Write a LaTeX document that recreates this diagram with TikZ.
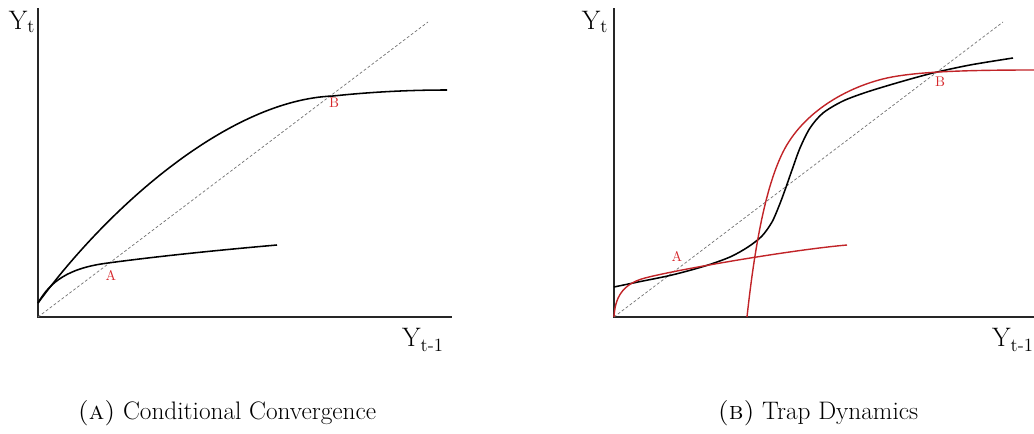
\documentclass[tikz,border=0pt]{standalone}
\usepackage{xcolor}
\usetikzlibrary{
    arrows.meta,
    positioning
}

\definecolor{eqred}{RGB}{214,40,44}

\begin{document}
\begin{tikzpicture}[
    x=0.025cm,
    y=-0.025cm,
    axis/.style={
        line width=1.3pt,
        draw=black!85
    },
    curve/.style={
        line width=1.1pt,
        draw=black
    },
    redcurve/.style={
        line width=1.0pt,
        draw=eqred!90!black
    },
    diag/.style={
        line width=0.5pt,
        draw=black!55,
        dash pattern=on 2pt off 1.5pt
    },
    axlabel/.style={
        font=\fontsize{19}{22}\selectfont,
        inner sep=0pt
    },
    eqlabel/.style={
        font=\fontsize{10}{12}\selectfont,
        text=eqred,
        inner sep=0pt
    },
    caption/.style={
        font=\fontsize{18}{21}\selectfont,
        inner sep=0pt
    }
]

\clip (0,0) rectangle (1034,434);

% =========================================================
% Panel A: conditional convergence
% =========================================================
\coordinate (oA) at (38,317);
\coordinate (topA) at (38,8);
\coordinate (endA) at (452,317);
\coordinate (diagA) at (428,22);

\draw[axis] (topA) -- (oA) -- (endA);
\draw[diag] (oA) -- (diagA);

\node[axlabel] (ytA) at (22,22) {Y\textsubscript{t}};
\node[axlabel] (xtA) at (423,340) {Y\textsubscript{t-1}};

% high steady state
\draw[curve] (38,303) .. controls (110,205) and (230,100) .. (333,96)
    .. controls (380,91) and (420,90) .. (447,90);

% low steady state
\draw[curve] (38,303) .. controls (50,282) and (68,268) .. (108,263)
    .. controls (160,256) and (220,250) .. (277,245);

\node[eqlabel] (eqA1) at (111,275) {A};
\node[eqlabel] (eqB1) at (334,103) {B};

\node[caption] (capA) at (227,413) {\textsc{(a)} Conditional Convergence};

% =========================================================
% Panel B: trap dynamics
% =========================================================
\coordinate (oB) at (614,317);
\coordinate (topB) at (614,8);
\coordinate (endB) at (1034,317);
\coordinate (diagB) at (1003,22);

\draw[axis] (topB) -- (oB) -- (endB);
\draw[diag] (oB) -- (diagB);

\node[axlabel] (ytB) at (595,22) {Y\textsubscript{t}};
\node[axlabel] (xtB) at (1013,340) {Y\textsubscript{t-1}};

% S-shaped curve
\draw[curve] plot[smooth, tension=0.5] coordinates {
    (614,287) (638,282) (672,275) (705,266) (730,257) (748,247)
    (762,236) (772,222) (779,206) (785,190) (792,170) (800,148)
    (810,128) (823,113) (843,101) (867,92) (900,82) (933,73)
    (970,65) (1013,58)};

% low trap branch
\draw[redcurve] (oB) .. controls (615,298) and (622,284) .. (645,278)
    .. controls (675,270) and (790,250) .. (847,245);

% high branch
\draw[redcurve] (747,317) .. controls (753,262) and (763,192) .. (783,152)
    .. controls (803,112) and (847,87) .. (887,78)
    .. controls (915,72) and (960,70) .. (1034,70);

\node[eqlabel] (eqA2) at (677,256) {A};
\node[eqlabel] (eqB2) at (940,82) {B};

\node[caption] (capB) at (818,413) {\textsc{(b)} Trap Dynamics};

\end{tikzpicture}
\end{document}
